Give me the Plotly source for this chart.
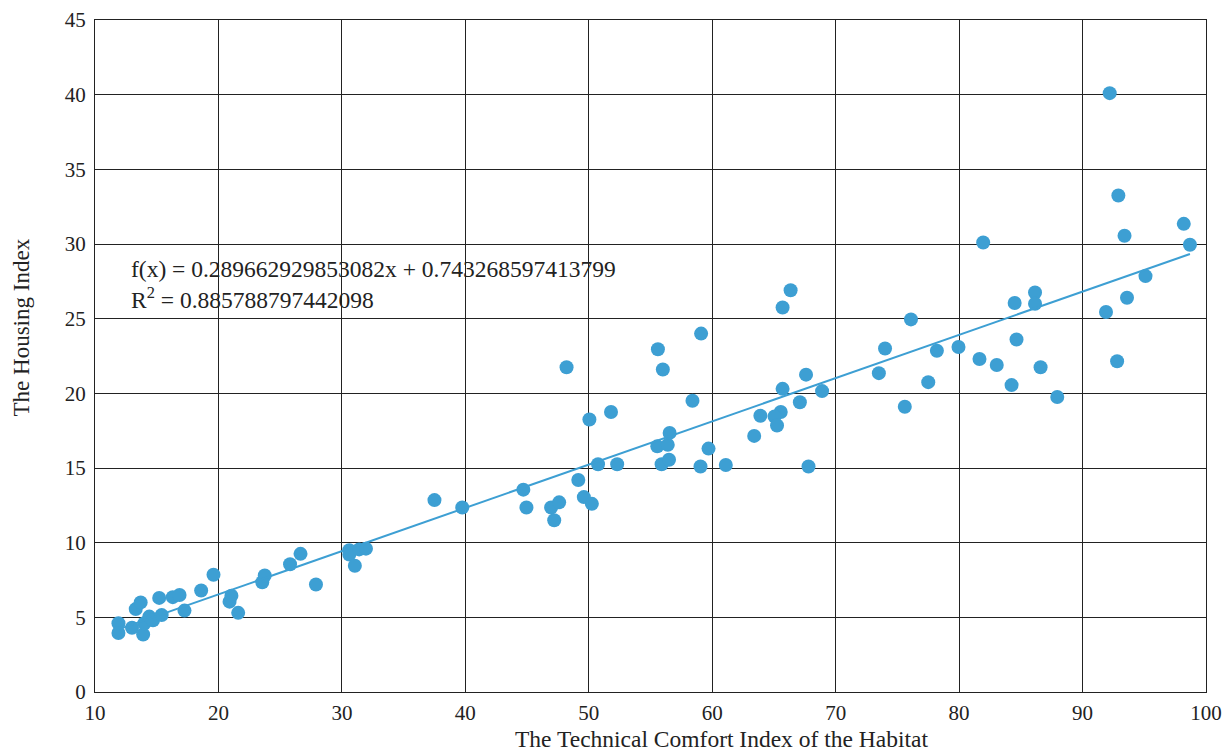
import plotly.graph_objects as go

comfort_index = [
    11.9, 11.9, 13.0, 13.3, 13.7, 13.9, 14.0, 14.4, 14.7, 15.2, 15.4, 16.3, 16.85, 17.25,
    18.6, 19.6, 20.9, 21.05, 21.6, 23.55, 23.75, 25.8, 26.65, 27.9, 30.6, 30.6, 31.05,
    31.4, 31.95, 37.5, 39.75, 44.7, 44.95, 46.95, 47.6, 47.2, 48.2, 49.15, 49.6, 50.25,
    50.05, 50.75, 51.8, 52.3, 55.6, 56.0, 59.1, 55.55, 56.4, 56.55, 55.9, 56.5, 58.4,
    59.7, 59.05, 61.1, 63.4, 63.9, 66.35, 65.7, 76.1, 81.95, 93.4, 98.7, 67.6, 65.7,
    68.9, 65.55, 65.05, 65.25, 67.1, 67.8, 73.5, 74.0, 75.6, 77.5, 78.2, 79.95, 81.65,
    83.05, 84.25, 84.65, 84.5, 86.15, 86.15, 86.6, 87.95, 91.9, 93.6, 95.1, 92.8, 92.2,
    92.9, 98.2,
]
housing_index = [
    4.6, 3.95, 4.3, 5.55, 6.0, 3.85, 4.6, 5.05, 4.8, 6.3, 5.15, 6.35, 6.5, 5.45,
    6.8, 7.85, 6.05, 6.45, 5.3, 7.35, 7.8, 8.55, 9.25, 7.2, 9.5, 9.2, 8.45,
    9.55, 9.6, 12.85, 12.35, 13.55, 12.35, 12.35, 12.7, 11.5, 21.75, 14.2, 13.05, 12.6,
    18.25, 15.25, 18.75, 15.25, 22.95, 21.6, 24.0, 16.45, 16.55, 17.35, 15.25, 15.55, 19.5,
    16.3, 15.1, 15.2, 17.15, 18.5, 26.9, 25.75, 24.95, 30.1, 30.55, 29.95, 21.25, 20.3,
    20.15, 18.75, 18.45, 17.85, 19.4, 15.1, 21.35, 23.0, 19.1, 20.75, 22.85, 23.1, 22.3,
    21.9, 20.55, 23.6, 26.05, 26.75, 26.0, 21.75, 19.75, 25.45, 26.4, 27.85, 22.15, 40.1,
    33.25, 31.35,
]

slope = 0.289662929853082
intercept = 0.743268597413799
r_squared = 0.885788797442098

x_ticks = [10, 20, 30, 40, 50, 60, 70, 80, 90, 100]
y_ticks = [0, 5, 10, 15, 20, 25, 30, 35, 40, 45]

FONT = "Liberation Serif"
BLUE = "#3d9fd3"
INK = "#222222"

x_line = [min(comfort_index), max(comfort_index)]
y_line = [slope * v + intercept for v in x_line]

fig = go.Figure()
fig.add_trace(go.Scatter(
    x=comfort_index, y=housing_index, mode="markers",
    marker=dict(color=BLUE, size=14, line=dict(width=0)),
    showlegend=False, hoverinfo="x+y",
))
fig.add_trace(go.Scatter(
    x=x_line, y=y_line, mode="lines",
    line=dict(color=BLUE, width=2), showlegend=False, hoverinfo="skip",
))

axis_common = dict(
    showgrid=True, gridcolor=INK, gridwidth=1,
    showline=True, linecolor=INK, linewidth=1, mirror=True,
    zeroline=False, ticks="", automargin=False,
    tickfont=dict(family=FONT, size=21, color=INK),
)
fig.update_xaxes(range=[10, 100], tickvals=x_ticks, ticktext=[str(v) for v in x_ticks],
                 ticklabelstandoff=2, **axis_common)
fig.update_yaxes(range=[0, 45], tickvals=y_ticks, ticktext=[str(v) for v in y_ticks],
                 ticklabelstandoff=4, **axis_common)

fig.add_annotation(
    x=12.75, y=29.35, xref="x", yref="y", xanchor="left", yanchor="top",
    text=f"f(x) = {slope}x + {intercept}<br>R<sup>2</sup> = {r_squared}",
    showarrow=False, align="left",
    font=dict(family=FONT, size=23.5, color=INK),
)
fig.add_annotation(
    x=0.5635, y=-0.07, xref="paper", yref="paper", xanchor="center", yanchor="middle",
    text="The Technical Comfort Index of the Habitat", showarrow=False,
    font=dict(family=FONT, size=23.5, color=INK),
)
fig.add_annotation(
    x=-0.066, y=0.542, xref="paper", yref="paper", xanchor="center", yanchor="middle",
    text="The Housing Index", textangle=-90, showarrow=False,
    font=dict(family=FONT, size=23, color=INK),
)

fig.update_layout(
    width=1223, height=752,
    margin=dict(l=95, r=17, t=20, b=60),
    plot_bgcolor="white", paper_bgcolor="white",
    font=dict(family=FONT, size=20, color=INK),
)

fig.write_html(
    "out.html",
    config={"displayModeBar": False},
    post_script="document.body.style.margin='0';document.body.style.padding='0';document.body.style.overflow='hidden';",
)
